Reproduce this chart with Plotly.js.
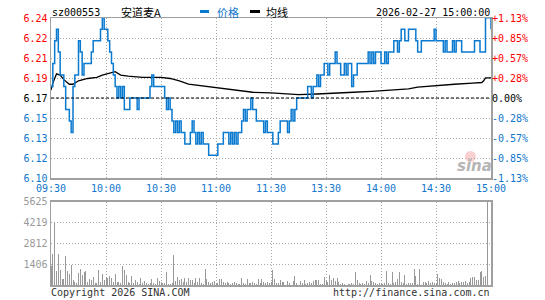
<!DOCTYPE html>
<html>
<head>
<meta charset="utf-8">
<script src="https://cdn.plot.ly/plotly-3.0.1.min.js"></script>
<style>html,body{margin:0;padding:0;background:#fff;}#chart{width:545px;height:300px;}</style>
</head>
<body>
<div id="chart"></div>
<script>
// ---------- data ----------
const stockCode = "sz000553";
const stockName = "安道麦A";
const dateTime = "2026-02-27 15:00:00";
const prevClose = 6.17;
const maxPct = 1.13;

const timeTickMinutes = [0, 30, 60, 90, 120, 150, 180, 210, 240];
const timeTickLabels = ["09:30", "10:00", "10:30", "11:00", "11:30", "13:30", "14:00", "14:30", "15:00"];

const priceTickLabels = ["6.10", "6.12", "6.13", "6.15", "6.17", "6.19", "6.21", "6.22", "6.24"];
const pctTickLabels = ["-1.13%", "-0.85%", "-0.57%", "-0.28%", "0.00%", "+0.28%", "+0.57%", "+0.85%", "+1.13%"];

const volTickVals = [0, 1406, 2812, 4219, 5625];
const volTickLabels = ["", "1406", "2812", "4219", "5625"];

// price per minute (241 points, 09:30 .. 11:30, 13:01 .. 15:00)
const price = [
 6.18,6.20,6.22,6.23,6.21,6.19,6.19,6.18,6.16,6.16,
 6.15,6.14,6.18,6.19,6.19,6.22,6.21,6.19,6.20,6.20,
 6.20,6.20,6.21,6.22,6.22,6.22,6.22,6.23,6.24,6.23,
 6.23,6.22,6.21,6.20,6.19,6.18,6.17,6.18,6.17,6.18,
 6.16,6.16,6.16,6.17,6.17,6.17,6.17,6.16,6.17,6.17,
 6.17,6.17,6.17,6.17,6.18,6.19,6.18,6.18,6.18,6.18,
 6.18,6.18,6.17,6.16,6.17,6.16,6.15,6.14,6.15,6.14,
 6.15,6.14,6.14,6.13,6.13,6.13,6.14,6.15,6.14,6.13,
 6.14,6.13,6.14,6.13,6.13,6.13,6.12,6.12,6.12,6.12,
 6.12,6.13,6.13,6.13,6.14,6.14,6.14,6.13,6.14,6.13,
 6.14,6.13,6.14,6.14,6.15,6.16,6.15,6.16,6.16,6.17,
 6.16,6.16,6.15,6.15,6.15,6.15,6.14,6.15,6.14,6.14,
 6.14,6.13,6.13,6.13,6.14,6.15,6.15,6.15,6.15,6.14,
 6.15,6.16,6.15,6.16,6.17,6.17,6.17,6.17,6.17,6.17,
 6.18,6.18,6.17,6.18,6.18,6.19,6.18,6.19,6.19,6.20,
 6.20,6.19,6.20,6.20,6.20,6.21,6.20,6.20,6.19,6.19,
 6.20,6.19,6.20,6.20,6.18,6.19,6.19,6.20,6.20,6.20,
 6.20,6.20,6.20,6.21,6.20,6.21,6.20,6.21,6.21,6.21,
 6.20,6.20,6.21,6.20,6.21,6.21,6.21,6.22,6.22,6.21,
 6.22,6.23,6.23,6.22,6.22,6.23,6.23,6.23,6.23,6.22,
 6.21,6.21,6.22,6.22,6.22,6.22,6.22,6.22,6.22,6.23,
 6.22,6.22,6.22,6.22,6.21,6.22,6.21,6.21,6.21,6.22,
 6.21,6.22,6.22,6.22,6.21,6.21,6.21,6.21,6.21,6.21,
 6.21,6.22,6.22,6.22,6.21,6.21,6.21,6.24,6.24,6.24,
 6.23
];

// average price line, sampled (minute index, value)
const avgMinutes = [0,1,3,5,7,10,12,15,20,25,28,32,35,38,42,50,60,65,70,75,80,90,100,110,120,125,135,145,155,165,175,185,195,200,210,220,230,235,236,237,240];
const avgPrice   = [6.177,6.183,6.191,6.190,6.186,6.182,6.182,6.185,6.187,6.188,6.190,6.192,6.193,6.190,6.189,6.188,6.188,6.187,6.185,6.182,6.181,6.179,6.177,6.175,6.1745,6.174,6.173,6.1735,6.174,6.175,6.1758,6.177,6.178,6.1795,6.181,6.182,6.183,6.1835,6.185,6.1875,6.1875];

// volume per minute (241 points)
const volume = [
 1300,2100,4150,960,2100,1030,420,420,1960,980,
 740,1360,360,250,130,800,1090,690,910,960,
 250,420,360,540,130,130,1030,250,760,360,
 540,510,650,510,250,760,200,200,130,1320,
 1030,690,200,130,620,130,360,200,90,470,
 130,310,130,70,130,420,130,100,510,290,
 200,130,130,910,70,70,130,2030,290,580,
 360,420,200,510,250,470,360,360,130,510,
 200,470,130,70,1090,420,200,130,200,290,
 130,130,420,420,200,130,200,130,70,130,
 200,130,70,100,470,130,100,420,130,130,
 200,130,70,420,130,420,200,130,200,130,
 200,1030,420,130,130,360,250,200,0,290,
 130,0,290,620,130,0,290,130,360,70,
 130,200,130,290,360,360,360,70,70,540,
 290,200,690,360,470,290,510,200,70,130,
 70,0,70,70,130,70,910,360,130,70,
 130,70,290,130,690,290,200,130,70,130,
 130,70,130,960,130,70,910,130,200,420,
 870,200,130,690,70,130,130,130,1090,650,
 70,1090,0,250,200,130,290,130,200,130,
 130,740,510,420,200,130,70,200,70,130,
 130,200,290,130,250,200,290,130,250,470,
 580,580,360,360,910,960,580,650,9000,0,
 0
];

// ---------- styling ----------
const W = 545, H = 300;
const RED = "#ff0000", BLUE = "#1177cc", LINEBLUE = "#0a7ad0", GRAY = "#999999";
const px = v => v / W;
const py = v => 1 - v / H;

const lo = prevClose * (1 - maxPct / 100);
const hi = prevClose * (1 + maxPct / 100);
const step = (hi - prevClose) / 4;
const priceTickVals = priceTickLabels.map((_, i) => prevClose + (i - 4) * step);
const colorFor = i => (i > 4 ? RED : (i < 4 ? BLUE : "#000000"));
const leftText = priceTickLabels.map((t, i) => `<span style="color:${colorFor(i)}">${t}</span>`);
const rightText = pctTickLabels.map((t, i) => `<span style="color:${colorFor(i)}">${t}</span>`);

const minutes = price.map((_, i) => i);
const volMinutes = volume.map((_, i) => i);

const mono = "DejaVu Sans Mono, monospace";
const gridDash = "1px,2px";

const traces = [
  { x: volMinutes, y: volume, type: "bar", xaxis: "x2", yaxis: "y3", width: 0.55,
    marker: { color: "#999999", line: { width: 0 } }, hoverinfo: "skip" },
  { x: avgMinutes, y: avgPrice, type: "scatter", mode: "lines", xaxis: "x", yaxis: "y",
    line: { color: "#000000", width: 1.3 }, hoverinfo: "skip" },
  { x: minutes, y: price, type: "scatter", mode: "lines", xaxis: "x", yaxis: "y",
    line: { color: LINEBLUE, width: 1.5, shape: "hv" }, hoverinfo: "skip" },
  { x: [0], y: [prevClose], type: "scatter", mode: "markers", xaxis: "x", yaxis: "y2",
    marker: { opacity: 0 }, hoverinfo: "skip" }
];

const gridCommon = { showgrid: true, gridcolor: "#aaaaaa", griddash: gridDash, gridwidth: 1,
  zeroline: false, showline: true, linecolor: "#a0a0a0", linewidth: 1.5, mirror: true, ticks: "",
  fixedrange: true };

const layout = {
  width: W, height: H, margin: { l: 0, r: 0, t: 0, b: 0 },
  paper_bgcolor: "#ffffff", plot_bgcolor: "#ffffff", showlegend: false,
  font: { family: mono, size: 10, color: "#000" },
  bargap: 0,
  xaxis: Object.assign({}, gridCommon, {
    domain: [px(51), px(491)], range: [0, 240], anchor: "y",
    tickmode: "array", tickvals: timeTickMinutes, ticktext: timeTickLabels,
    tickfont: { family: mono, size: 10, color: BLUE }
  }),
  yaxis: Object.assign({}, gridCommon, {
    domain: [py(178), py(18)], range: [lo, hi], anchor: "x",
    tickmode: "array", tickvals: priceTickVals, ticktext: leftText,
    tickfont: { family: mono, size: 10 }
  }),
  yaxis2: {
    overlaying: "y", side: "right", anchor: "x", range: [lo, hi],
    tickmode: "array", tickvals: priceTickVals, ticktext: rightText,
    tickfont: { family: mono, size: 10 }, showgrid: false, zeroline: false, showline: false,
    ticks: "", fixedrange: true
  },
  xaxis2: Object.assign({}, gridCommon, {
    domain: [px(51), px(491)], range: [0, 240], anchor: "y3",
    tickmode: "array", tickvals: timeTickMinutes, showticklabels: false
  }),
  yaxis3: Object.assign({}, gridCommon, {
    domain: [py(285.3), py(201.5)], range: [0, 5625], anchor: "x2",
    tickmode: "array", tickvals: volTickVals, ticktext: volTickLabels,
    tickfont: { family: mono, size: 10, color: GRAY }
  }),
  shapes: [
    { type: "line", xref: "x", yref: "y", x0: 0, x1: 240, y0: prevClose, y1: prevClose,
      line: { color: "#000000", width: 1, dash: "3px,2px" } },
    { type: "line", xref: "paper", yref: "paper", x0: px(200), x1: px(209), y0: py(11.5), y1: py(11.5),
      line: { color: LINEBLUE, width: 3 } },
    { type: "line", xref: "paper", yref: "paper", x0: px(250), x1: px(260), y0: py(11.5), y1: py(11.5),
      line: { color: "#000000", width: 3 } },
    { type: "circle", xref: "paper", yref: "paper", x0: px(465), x1: px(476), y0: py(162), y1: py(151),
      fillcolor: "rgba(235,120,120,0.35)", line: { width: 0 }, layer: "below" }
  ],
  annotations: [
    { text: stockCode, xref: "paper", yref: "paper", x: px(50), y: py(12), xanchor: "left", yanchor: "middle",
      showarrow: false, font: { family: mono, size: 10, color: "#000" } },
    { text: stockName, xref: "paper", yref: "paper", x: px(119), y: py(12), xanchor: "left", yanchor: "middle",
      showarrow: false, font: { family: "Noto Sans CJK SC, DejaVu Sans Mono", size: 11, color: "#000" } },
    { text: "价格", xref: "paper", yref: "paper", x: px(215), y: py(12), xanchor: "left", yanchor: "middle",
      showarrow: false, font: { family: "Noto Sans CJK SC", size: 11, color: BLUE } },
    { text: "均线", xref: "paper", yref: "paper", x: px(264), y: py(12), xanchor: "left", yanchor: "middle",
      showarrow: false, font: { family: "Noto Sans CJK SC", size: 11, color: "#000" } },
    { text: dateTime, xref: "paper", yref: "paper", x: px(492), y: py(12), xanchor: "right", yanchor: "middle",
      showarrow: false, font: { family: mono, size: 10, color: "#000" } },
    { text: "Copyright 2026 SINA.COM", xref: "paper", yref: "paper", x: px(49), y: py(292.5), xanchor: "left", yanchor: "middle",
      showarrow: false, font: { family: mono, size: 10, color: "#333" } },
    { text: "http://finance.sina.com.cn", xref: "paper", yref: "paper", x: px(492), y: py(292.5), xanchor: "right", yanchor: "middle",
      showarrow: false, font: { family: mono, size: 10, color: "#333" } },
    { text: "sina", xref: "paper", yref: "paper", x: px(474), y: py(166), xanchor: "center", yanchor: "middle",
      showarrow: false, font: { family: "DejaVu Sans", size: 15, color: "#b5b5b5", weight: "bold", style: "italic" } }
  ]
};

Plotly.newPlot("chart", traces, layout, { staticPlot: true, displayModeBar: false });
</script>
</body>
</html>
